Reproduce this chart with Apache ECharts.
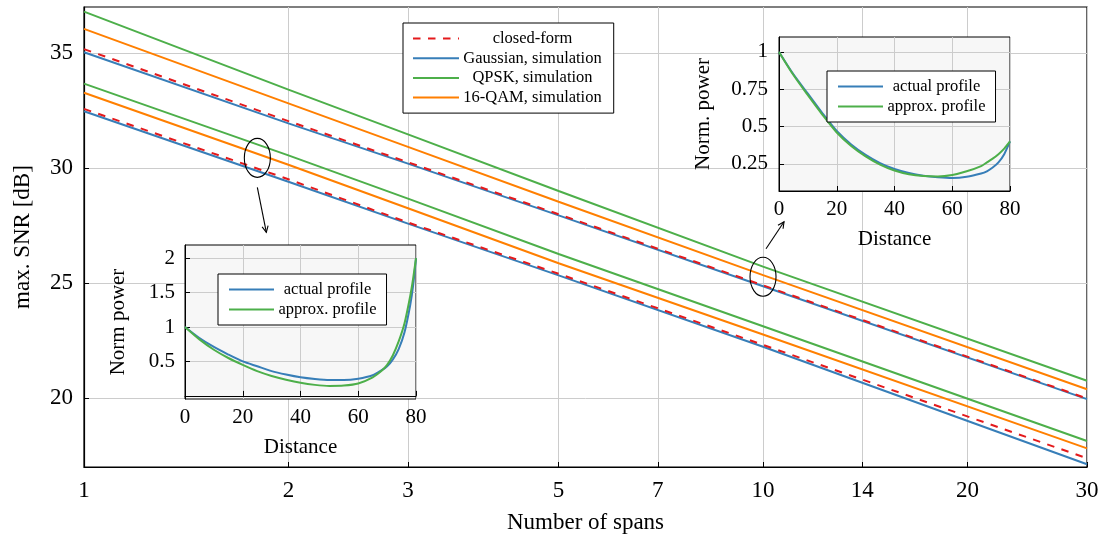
<!DOCTYPE html>
<html><head><meta charset="utf-8">
<script src="https://cdn.jsdelivr.net/npm/echarts@6/dist/echarts.min.js"></script>
<style>html,body{margin:0;padding:0;background:#fff}#c{width:1103px;height:539px}</style>
</head><body><div id="c"></div>
<script>
// ---- main chart data ----
const spans = [1, 2, 3, 5, 10, 30];
const xTicks = [1, 2, 3, 5, 7, 10, 14, 20, 30];
const yTicks = [20, 25, 30, 35];
const closedHigh = [35.17, 32.04, 30.25, 27.99, 24.90, 19.98];
const closedLow  = [32.57, 29.51, 27.63, 25.40, 22.31, 17.38];
const gaussHigh  = [35.03, 31.94, 30.19, 27.94, 24.86, 19.95];
const gaussLow   = [32.47, 29.40, 27.58, 25.33, 22.23, 17.12];
const qpskHigh   = [36.80, 33.41, 31.46, 29.00, 25.71, 20.75];
const qpskLow    = [33.67, 30.55, 28.67, 26.26, 23.12, 18.13];
const qamHigh    = [36.05, 32.81, 30.92, 28.53, 25.34, 20.38];
const qamLow     = [33.27, 30.14, 28.25, 25.86, 22.76, 17.81];
const legendNames = ['closed-form', 'Gaussian, simulation', 'QPSK, simulation', '16-QAM, simulation'];

// ---- inset 1 (left) ----
const dist1 = [0, 5, 10, 15, 20, 25, 30, 35, 40, 45, 50, 55, 60, 65, 68, 70, 72, 74, 76, 78, 79, 80];
const actual1 = [1.0, 0.84, 0.71, 0.60, 0.50, 0.43, 0.36, 0.31, 0.27, 0.245, 0.23, 0.23, 0.25, 0.30, 0.37, 0.43, 0.53, 0.68, 0.92, 1.32, 1.6, 2.0];
const approx1 = [1.0, 0.82, 0.67, 0.55, 0.45, 0.36, 0.29, 0.235, 0.19, 0.16, 0.145, 0.15, 0.18, 0.27, 0.36, 0.45, 0.59, 0.79, 1.05, 1.45, 1.7, 2.0];
const inset1YTicks = [0.5, 1, 1.5, 2];

// ---- inset 2 (right) ----
const dist2 = [0, 5, 10, 15, 20, 25, 30, 35, 40, 45, 50, 55, 60, 65, 70, 72, 74, 76, 78, 80];
const actual2 = [1.0, 0.85, 0.72, 0.59, 0.47, 0.38, 0.31, 0.255, 0.215, 0.188, 0.17, 0.16, 0.155, 0.163, 0.185, 0.20, 0.225, 0.26, 0.315, 0.40];
const approx2 = [1.0, 0.845, 0.71, 0.58, 0.46, 0.37, 0.30, 0.245, 0.205, 0.18, 0.168, 0.165, 0.175, 0.20, 0.235, 0.26, 0.285, 0.315, 0.352, 0.40];
const inset2YTicks = [0.25, 0.5, 0.75, 1];
const distTicksInterval = 20;

const FONT = "'Liberation Serif', 'DejaVu Serif', serif";
const BLUE = '#377eb8', GREEN = '#4daf4a', ORANGE = '#ff7f00', RED = '#e41a1c';
const GRIDC = '#cccccc';

function pairs(xs, ys) { return xs.map((x, i) => [x, ys[i]]); }

function mainLine(name, vals, color, dashed) {
  return {
    type: 'line', name: name, xAxisIndex: 0, yAxisIndex: 0,
    data: pairs(spans, vals), symbol: 'none', showSymbol: false,
    lineStyle: { color: color, width: 2, type: dashed ? [7.5, 7.5] : 'solid' },
    itemStyle: { color: color }, z: dashed ? 4 : 3, animation: false
  };
}
function insetLine(name, xi, xs, ys, color) {
  return {
    type: 'line', name: name, xAxisIndex: xi, yAxisIndex: xi,
    data: pairs(xs, ys), symbol: 'none', showSymbol: false, smooth: 0.25,
    lineStyle: { color: color, width: 2 }, itemStyle: { color: color }, z: 8, animation: false
  };
}
const tickStyle = { show: true, inside: true, length: 5, lineStyle: { color: '#000', width: 1 } };
function legendCfg(names, left, top, textW, padding, gap, itemW) {
  return {
    data: names, orient: 'vertical', left: left, top: top, padding: padding,
    itemGap: gap, itemWidth: itemW, itemHeight: 2,
    itemStyle: { opacity: 0 },
    backgroundColor: '#fff', borderColor: '#000', borderWidth: 1, borderRadius: 0,
    formatter: n => '{t|' + n + '}',
    textStyle: { rich: { t: { width: textW, align: 'center', fontSize: 16.5, fontFamily: FONT, color: '#000', lineHeight: 17 } } },
    selectedMode: false, z: 12
  };
}

const chart = echarts.init(document.getElementById('c'), null, { renderer: 'canvas' });
chart.setOption({
  animation: false,
  backgroundColor: '#fff',
  grid: [
    { left: 84, right: 16, top: 7, bottom: 70, show: true, borderColor: '#000', borderWidth: 1.2, backgroundColor: 'transparent', z: 0 },
    { left: 185, top: 245, width: 231, height: 154, show: true, borderColor: '#000', borderWidth: 1, backgroundColor: '#f7f7f7', z: 5 },
    { left: 779, top: 37, width: 231, height: 154, show: true, borderColor: '#000', borderWidth: 1, backgroundColor: '#f7f7f7', z: 5 }
  ],
  xAxis: [
    { type: 'log', logBase: 10, gridIndex: 0, min: 1, max: 30,
      axisLine: { show: true, lineStyle: { color: '#000', width: 1.2 } },
      axisTick: Object.assign({ customValues: xTicks }, tickStyle),
      axisLabel: { customValues: xTicks, fontSize: 23, fontFamily: FONT, color: '#000', margin: 12 },
      splitLine: { show: true, lineStyle: { color: GRIDC, width: 1 } },
      minorTick: { show: false }, minorSplitLine: { show: false },
      name: 'Number of spans', nameLocation: 'middle', nameGap: 44,
      nameTextStyle: { fontSize: 23, fontFamily: FONT, color: '#000' } },
    { type: 'value', gridIndex: 1, min: 0, max: 80, interval: distTicksInterval,
      axisLine: { show: true, lineStyle: { color: '#000' } }, axisTick: tickStyle,
      axisLabel: { fontSize: 21, fontFamily: FONT, color: '#000', margin: 8 },
      splitLine: { show: true, lineStyle: { color: GRIDC, width: 1 } },
      name: 'Distance', nameLocation: 'middle', nameGap: 38,
      nameTextStyle: { fontSize: 21, fontFamily: FONT, color: '#000' }, z: 6 },
    { type: 'value', gridIndex: 2, min: 0, max: 80, interval: distTicksInterval,
      axisLine: { show: true, lineStyle: { color: '#000' } }, axisTick: tickStyle,
      axisLabel: { fontSize: 21, fontFamily: FONT, color: '#000', margin: 8 },
      splitLine: { show: true, lineStyle: { color: GRIDC, width: 1 } },
      name: 'Distance', nameLocation: 'middle', nameGap: 38,
      nameTextStyle: { fontSize: 21, fontFamily: FONT, color: '#000' }, z: 6 }
  ],
  yAxis: [
    { type: 'value', gridIndex: 0, min: 17, max: 37,
      axisLine: { show: true, lineStyle: { color: '#000', width: 1.2 } },
      axisTick: Object.assign({ customValues: yTicks }, tickStyle),
      axisLabel: { customValues: yTicks, fontSize: 23, fontFamily: FONT, color: '#000', margin: 11 },
      splitLine: { show: true, lineStyle: { color: GRIDC, width: 1 } },
      name: 'max. SNR [dB]', nameLocation: 'middle', nameGap: 50,
      nameTextStyle: { fontSize: 23, fontFamily: FONT, color: '#000' } },
    { type: 'value', gridIndex: 1, min: -0.045, max: 2.19,
      axisLine: { show: true, lineStyle: { color: '#000' } },
      axisTick: Object.assign({ customValues: inset1YTicks }, tickStyle),
      axisLabel: { customValues: inset1YTicks, fontSize: 21, fontFamily: FONT, color: '#000', margin: 10 },
      splitLine: { show: true, lineStyle: { color: GRIDC, width: 1 } },
      name: 'Norm power', nameLocation: 'middle', nameGap: 56,
      nameTextStyle: { fontSize: 21, fontFamily: FONT, color: '#000' }, z: 6 },
    { type: 'value', gridIndex: 2, min: 0.068, max: 1.10,
      axisLine: { show: true, lineStyle: { color: '#000' } },
      axisTick: Object.assign({ customValues: inset2YTicks }, tickStyle),
      axisLabel: { customValues: inset2YTicks, fontSize: 21, fontFamily: FONT, color: '#000', margin: 11 },
      splitLine: { show: true, lineStyle: { color: GRIDC, width: 1 } },
      name: 'Norm. power', nameLocation: 'middle', nameGap: 65,
      nameTextStyle: { fontSize: 21, fontFamily: FONT, color: '#000' }, z: 6 }
  ],
  legend: [
    legendCfg(legendNames, 403, 23, 137, [7, 12, 7, 9], 2.7, 46),
    legendCfg(['actual profile', 'approx. profile'], 218, 274, 97, [7, 10, 7, 10], 3, 45),
    legendCfg(['actual profile', 'approx. profile'], 827, 71, 97, [7, 10, 7, 10], 3, 45)
  ],
  series: [
    mainLine('Gaussian, simulation', gaussHigh, BLUE),
    mainLine('Gaussian, simulation', gaussLow, BLUE),
    mainLine('QPSK, simulation', qpskHigh, GREEN),
    mainLine('QPSK, simulation', qpskLow, GREEN),
    mainLine('16-QAM, simulation', qamHigh, ORANGE),
    mainLine('16-QAM, simulation', qamLow, ORANGE),
    mainLine('closed-form', closedHigh, RED, true),
    mainLine('closed-form', closedLow, RED, true),
    insetLine('actual profile', 1, dist1, actual1, BLUE),
    insetLine('approx. profile', 1, dist1, approx1, GREEN),
    insetLine('actual profile', 2, dist2, actual2, BLUE),
    insetLine('approx. profile', 2, dist2, approx2, GREEN)
  ]
});

// annotations: ellipses marking the highlighted points, arrows to insets
const marks = [
  { at: [1.8, 30.44], from: [0, 29.5], to: [9, 74.5] },
  { at: [10, 25.27], from: [3, -28], to: [21, -55] }
];
const g = [];
marks.forEach(m => {
  const p = chart.convertToPixel({ xAxisIndex: 0, yAxisIndex: 0 }, m.at);
  g.push({ type: 'ellipse', shape: { cx: p[0], cy: p[1], rx: 13, ry: 19.5 }, style: { fill: 'none', stroke: '#000', lineWidth: 1.1 }, z: 20 });
  const x1 = p[0] + m.from[0], y1 = p[1] + m.from[1], x2 = p[0] + m.to[0], y2 = p[1] + m.to[1];
  g.push({ type: 'line', shape: { x1, y1, x2, y2 }, style: { stroke: '#000', lineWidth: 1.1 }, z: 20 });
  const ang = Math.atan2(y2 - y1, x2 - x1), L = 7, w = 0.45;
  g.push({ type: 'polyline', shape: { points: [
    [x2 - L * Math.cos(ang - w), y2 - L * Math.sin(ang - w)], [x2, y2],
    [x2 - L * Math.cos(ang + w), y2 - L * Math.sin(ang + w)] ] },
    style: { stroke: '#000', fill: 'none', lineWidth: 1.1 }, z: 20 });
});
chart.setOption({ graphic: g });
</script></body></html>
